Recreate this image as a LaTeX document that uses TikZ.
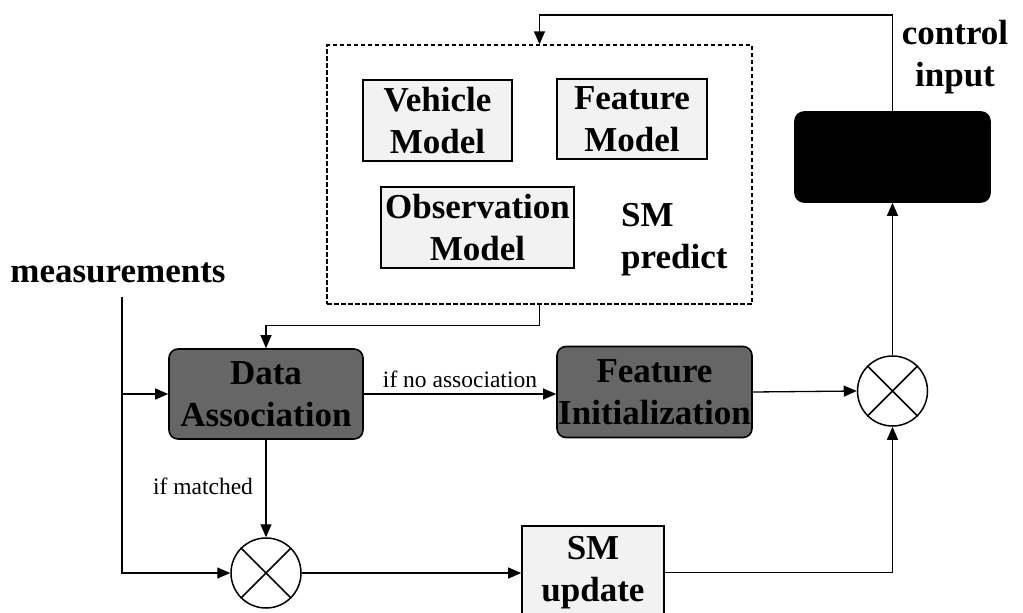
\documentclass[tikz,border=0pt]{standalone}
\usepackage{fontspec}
\setmainfont{Liberation Serif}
\usetikzlibrary{arrows.meta,calc}
\tikzset{
  lbl/.style={font=\fontsize{35}{42}\selectfont\bfseries, align=center},
  modelbox/.style={draw, line width=1.6pt, fill=gray!10, inner sep=0pt, lbl},
  darkbox/.style={draw, line width=1.6pt, fill=black!60, rounded corners=9pt, inner sep=0pt, lbl},
  ctrlbox/.style={draw, line width=1.6pt, fill=black, rounded corners=9pt, inner sep=0pt},
  groupbox/.style={draw, line width=1.3pt, dash pattern=on 4.5pt off 2.5pt, inner sep=0pt},
  arr/.style={line width=1.3pt, -{Triangle[length=13pt,width=11pt]}},
  mix/.style={circle, draw, line width=1.5pt, minimum size=70pt, inner sep=0pt},
  cond/.style={font=\fontsize{23.5}{28}\selectfont, inner sep=0pt},
}
\begin{document}
\begin{tikzpicture}[x=1pt, y=-1pt]
  \useasboundingbox (0,0) rectangle (1023,613);
  \clip (0,0) rectangle (1023,613);

  % prediction group
  \node[groupbox, minimum width=425pt, minimum height=259pt] (pred) at (539.5,174.5) {};
  \node[modelbox, minimum width=149pt, minimum height=81pt] (veh) at (437.5,120.5) {Vehicle\\Model};
  \node[modelbox, minimum width=150pt, minimum height=80pt] (feat) at (632,119) {Feature\\Model};
  \node[modelbox, minimum width=193pt, minimum height=81pt] (obs) at (477.5,227.5) {Observation\\Model};
  \node[lbl, align=left, anchor=west, inner sep=0pt] (smp) at (621,240) {SM\\predict};

  % control block
  \node[ctrlbox, minimum width=195pt, minimum height=90pt] (ctrl) at (892.5,157) {};
  \node[lbl, inner sep=0pt] (ctrltxt) at (955,57) {control\\input};

  % measurement input
  \node[lbl, anchor=base, inner sep=0pt] (meas) at (118,282) {measurements};
  \coordinate (m0) at (122,297);

  % processing blocks
  \node[darkbox, minimum width=194pt, minimum height=90pt] (da) at (266,394) {Data\\Association};
  \node[darkbox, minimum width=195pt, minimum height=91pt] (fi) at (654.5,392) {Feature\\Initialization};
  \node[modelbox, minimum width=142pt, minimum height=93pt] (smu) at (593,572.5) {SM\\update};

  % mixing junctions
  \node[mix] (cl) at (266,573) {};
  \draw[line width=1.5pt] (cl.north west) -- (cl.south east) (cl.north east) -- (cl.south west);
  \node[mix] (cr) at (892.5,391) {};
  \draw[line width=1.5pt] (cr.north west) -- (cr.south east) (cr.north east) -- (cr.south west);

  % connectors
  \coordinate (top) at (700,15);
  \draw[arr] (ctrl.north) |- (top) -| (pred.north);
  \draw[arr] (pred.south) -- ++(0,21) -| (da.north);
  \draw[arr] (m0) |- (cl.west);
  \draw[arr] (m0 |- da.west) -- (da.west);
  \draw[arr] (da.east) -- (fi.west |- da.east)
    node[cond, pos=0.5, above=6pt] (noassoc) {if no association};
  \draw[arr] (da.south) -- (cl.north);
  \node[cond, anchor=base] (matched) at (203,494) {if matched};
  \draw[arr] (cl.east) -- (smu.west |- cl.east);
  \draw[arr] (smu.east) -| (cr.south);
  \draw[arr] (fi.east) -- (cr.west);
  \draw[arr] (cr.north) -- (ctrl.south);
\end{tikzpicture}
\end{document}
